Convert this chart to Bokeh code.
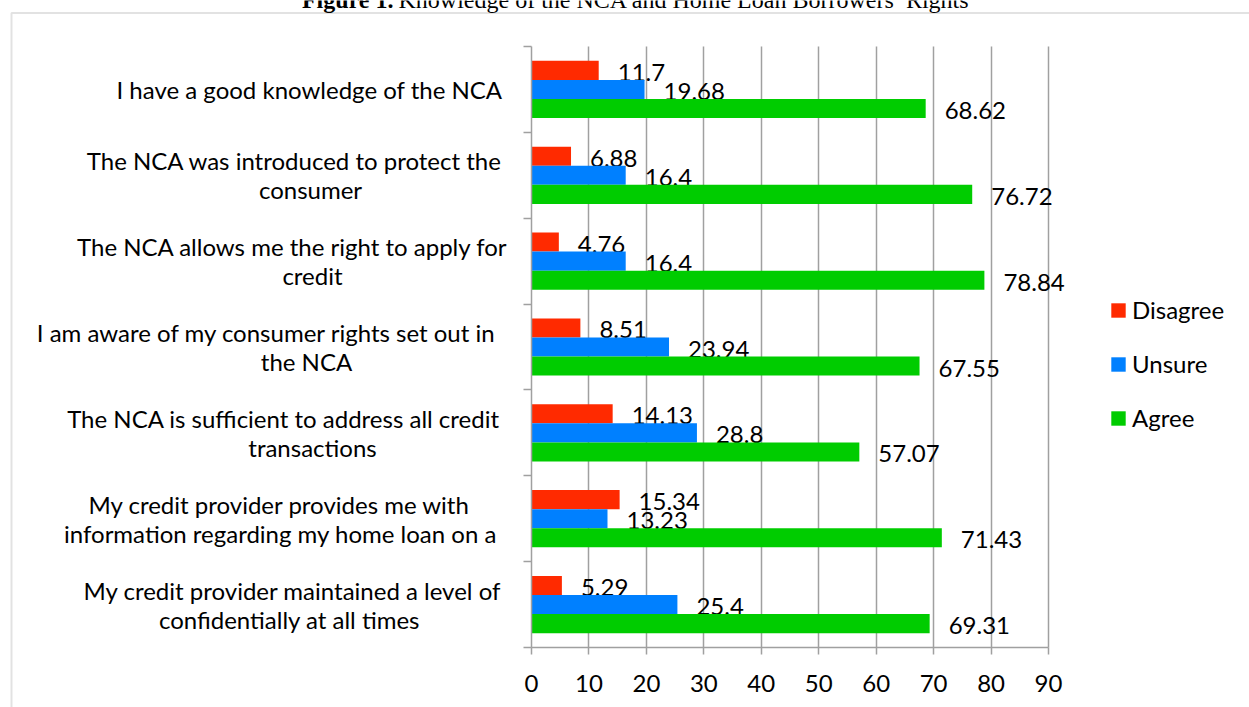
from bokeh.plotting import figure
from bokeh.models import (ColumnDataSource, Range1d, FixedTicker, Legend, LegendItem,
                          BoxAnnotation, Grid)
from bokeh.core.properties import value
from bokeh.embed import file_html
from bokeh.resources import INLINE

# ---------------- data ----------------
categories = [
    ["I have a good knowledge of the NCA"],
    ["The NCA was introduced to protect the", "consumer"],
    ["The NCA allows me the right to apply for", "credit"],
    ["I am aware of my consumer rights set out in", "the NCA"],
    ["The NCA is sufficient to address all credit", "transactions"],
    ["My credit provider provides me with", "information regarding my home loan on a"],
    ["My credit provider maintained a level of", "confidentially at all times"],
]
disagree = [11.7, 6.88, 4.76, 8.51, 14.13, 15.34, 5.29]
unsure = [19.68, 16.4, 16.4, 23.94, 28.8, 13.23, 25.4]
agree = [68.62, 76.72, 78.84, 67.55, 57.07, 71.43, 69.31]
series_names = ["Disagree", "Unsure", "Agree"]
x_ticks = [0, 10, 20, 30, 40, 50, 60, 70, 80, 90]
title_bold = "Figure 1."
title_rest = "Knowledge of the NCA and Home Loan Borrowers\u2019 Rights"

# ---------------- layout / style ----------------
W, H = 1249, 707
PL, PR, PT, PB = 531, 1048, 46, 647          # plot-area edges in pixels
X_MAX = 90
n = len(categories)
sx = (PR - PL) / X_MAX                        # px per x unit
sy = (PB - PT) / n                            # px per category
colors = ["#ff2a00", "#0080ff", "#00cc00"]
GRAY = "#a0a0a0"
FONT = "Lato"
FS = "24px"
BAR_H = 0.222
offsets = [BAR_H, 0.0, -BAR_H]
centers = [n - 0.5 - i for i in range(n)]

p = figure(width=W, height=H,
           x_range=Range1d(-PL / sx, (W - PL) / sx),
           y_range=Range1d(-(H - PB) / sy, n + PT / sy),
           output_backend="svg", toolbar_location=None, title=None,
           min_border_left=0, min_border_right=0, min_border_top=0, min_border_bottom=0)
p.outline_line_color = None
p.background_fill_color = "white"
p.border_fill_color = "white"

# axes, drawn at the plot-area edges (x=0 and y=0)
xa = p.xaxis[0]
xa.fixed_location = 0
xa.bounds = (0, X_MAX)
xa.ticker = FixedTicker(ticks=x_ticks)
xa.major_tick_out = 7
xa.major_tick_in = 0
xa.minor_tick_line_color = None
xa.axis_line_color = GRAY
xa.axis_line_width = 1.5
xa.major_tick_line_color = GRAY
xa.major_tick_line_width = 1.5
xa.major_label_text_font = FONT
xa.major_label_text_font_size = FS
xa.major_label_text_color = "black"
xa.major_label_standoff = 20

ya = p.yaxis[0]
ya.fixed_location = 0
ya.bounds = (0, n)
ya.ticker = FixedTicker(ticks=list(range(n + 1)))
ya.major_tick_out = 8
ya.major_tick_in = 0
ya.minor_tick_line_color = None
ya.axis_line_color = GRAY
ya.axis_line_width = 1.5
ya.major_tick_line_color = GRAY
ya.major_tick_line_width = 1.5
ya.major_label_overrides = {i: "" for i in range(n + 1)}

p.ygrid.visible = False
if "cross_bounds" in Grid.properties():
    p.xgrid.ticker = FixedTicker(ticks=x_ticks[1:])
    p.xgrid.cross_bounds = (0, n)
    p.xgrid.grid_line_color = GRAY
    p.xgrid.grid_line_width = 1.5
else:
    p.xgrid.visible = False
    p.segment(x0=x_ticks[1:], x1=x_ticks[1:], y0=0, y1=n, line_color=GRAY, line_width=1.5)

# bars + data labels
renderers = []
for vals, name, col, off in zip([disagree, unsure, agree], series_names, colors, offsets):
    src = ColumnDataSource(dict(
        x=vals,
        y=[c + off for c in centers],
        t=[f"{v:g}" for v in vals],
    ))
    r = p.hbar(y="y", right="x", left=0, height=BAR_H, source=src,
               fill_color=col, line_color=None)
    renderers.append(r)
    p.text(x="x", y="y", text="t", source=src, x_offset=19, y_offset=2,
           text_font=value(FONT), text_font_size=FS, text_color="black",
           text_align="left", text_baseline="middle")

# category labels (left of axis), each line centred
line_centers_x = [[309], [294, 310], [292, 312], [266, 306], [283, 312], [279, 280], [292, 289]]
LINE_GAP = 29
cx, cy, cxo, cyo, ct = [], [], [], [], []
for i, (lines, xs) in enumerate(zip(categories, line_centers_x)):
    k = len(lines)
    for j, (txt, xc) in enumerate(zip(lines, xs)):
        cx.append(0)
        cy.append(centers[i])
        cxo.append(xc - PL)
        cyo.append((j - (k - 1) / 2) * LINE_GAP)
        ct.append(txt)
p.text(x="x", y="y", text="t", x_offset="xo", y_offset="yo",
       source=ColumnDataSource(dict(x=cx, y=cy, xo=cxo, yo=cyo, t=ct)),
       text_font=value(FONT), text_font_size=FS, text_color="black",
       text_align="center", text_baseline="middle")

# legend
legend = Legend(items=[LegendItem(label=nm, renderers=[r]) for nm, r in zip(series_names, renderers)],
                location=(1109, H - 432), orientation="vertical",
                glyph_width=18, glyph_height=18, label_height=18, spacing=25,
                label_standoff=5, padding=0, margin=0,
                label_text_font=FONT, label_text_font_size=FS, label_text_color="black",
                border_line_color=None, background_fill_alpha=0)
p.add_layout(legend)

# title (partly cut off at the top, as in the reference)
TITLE_DY = -47
p.text(x=[0], y=[n], text=[title_bold], x_offset=393 - PL, y_offset=TITLE_DY,
       text_font=value("Liberation Serif"), text_font_style="bold",
       text_font_size="24px", text_align="right", text_baseline="alphabetic",
       text_color="black")
p.text(x=[0], y=[n], text=[title_rest], x_offset=398 - PL, y_offset=TITLE_DY,
       text_font=value("Liberation Serif"),
       text_font_size="24px", text_align="left", text_baseline="alphabetic",
       text_color="black")

# outer chart-area border (left and top edges visible), placed through the scales
p.add_layout(BoxAnnotation(left=(11 - PL) / sx, right=(W + 50 - PL) / sx,
                           top=n + (PT - 12.5) / sy, bottom=-(H + 50 - PB) / sy,
                           fill_alpha=0, line_color=GRAY, line_width=2, level="underlay"))

open("out.html", "w").write(file_html(p, INLINE))
